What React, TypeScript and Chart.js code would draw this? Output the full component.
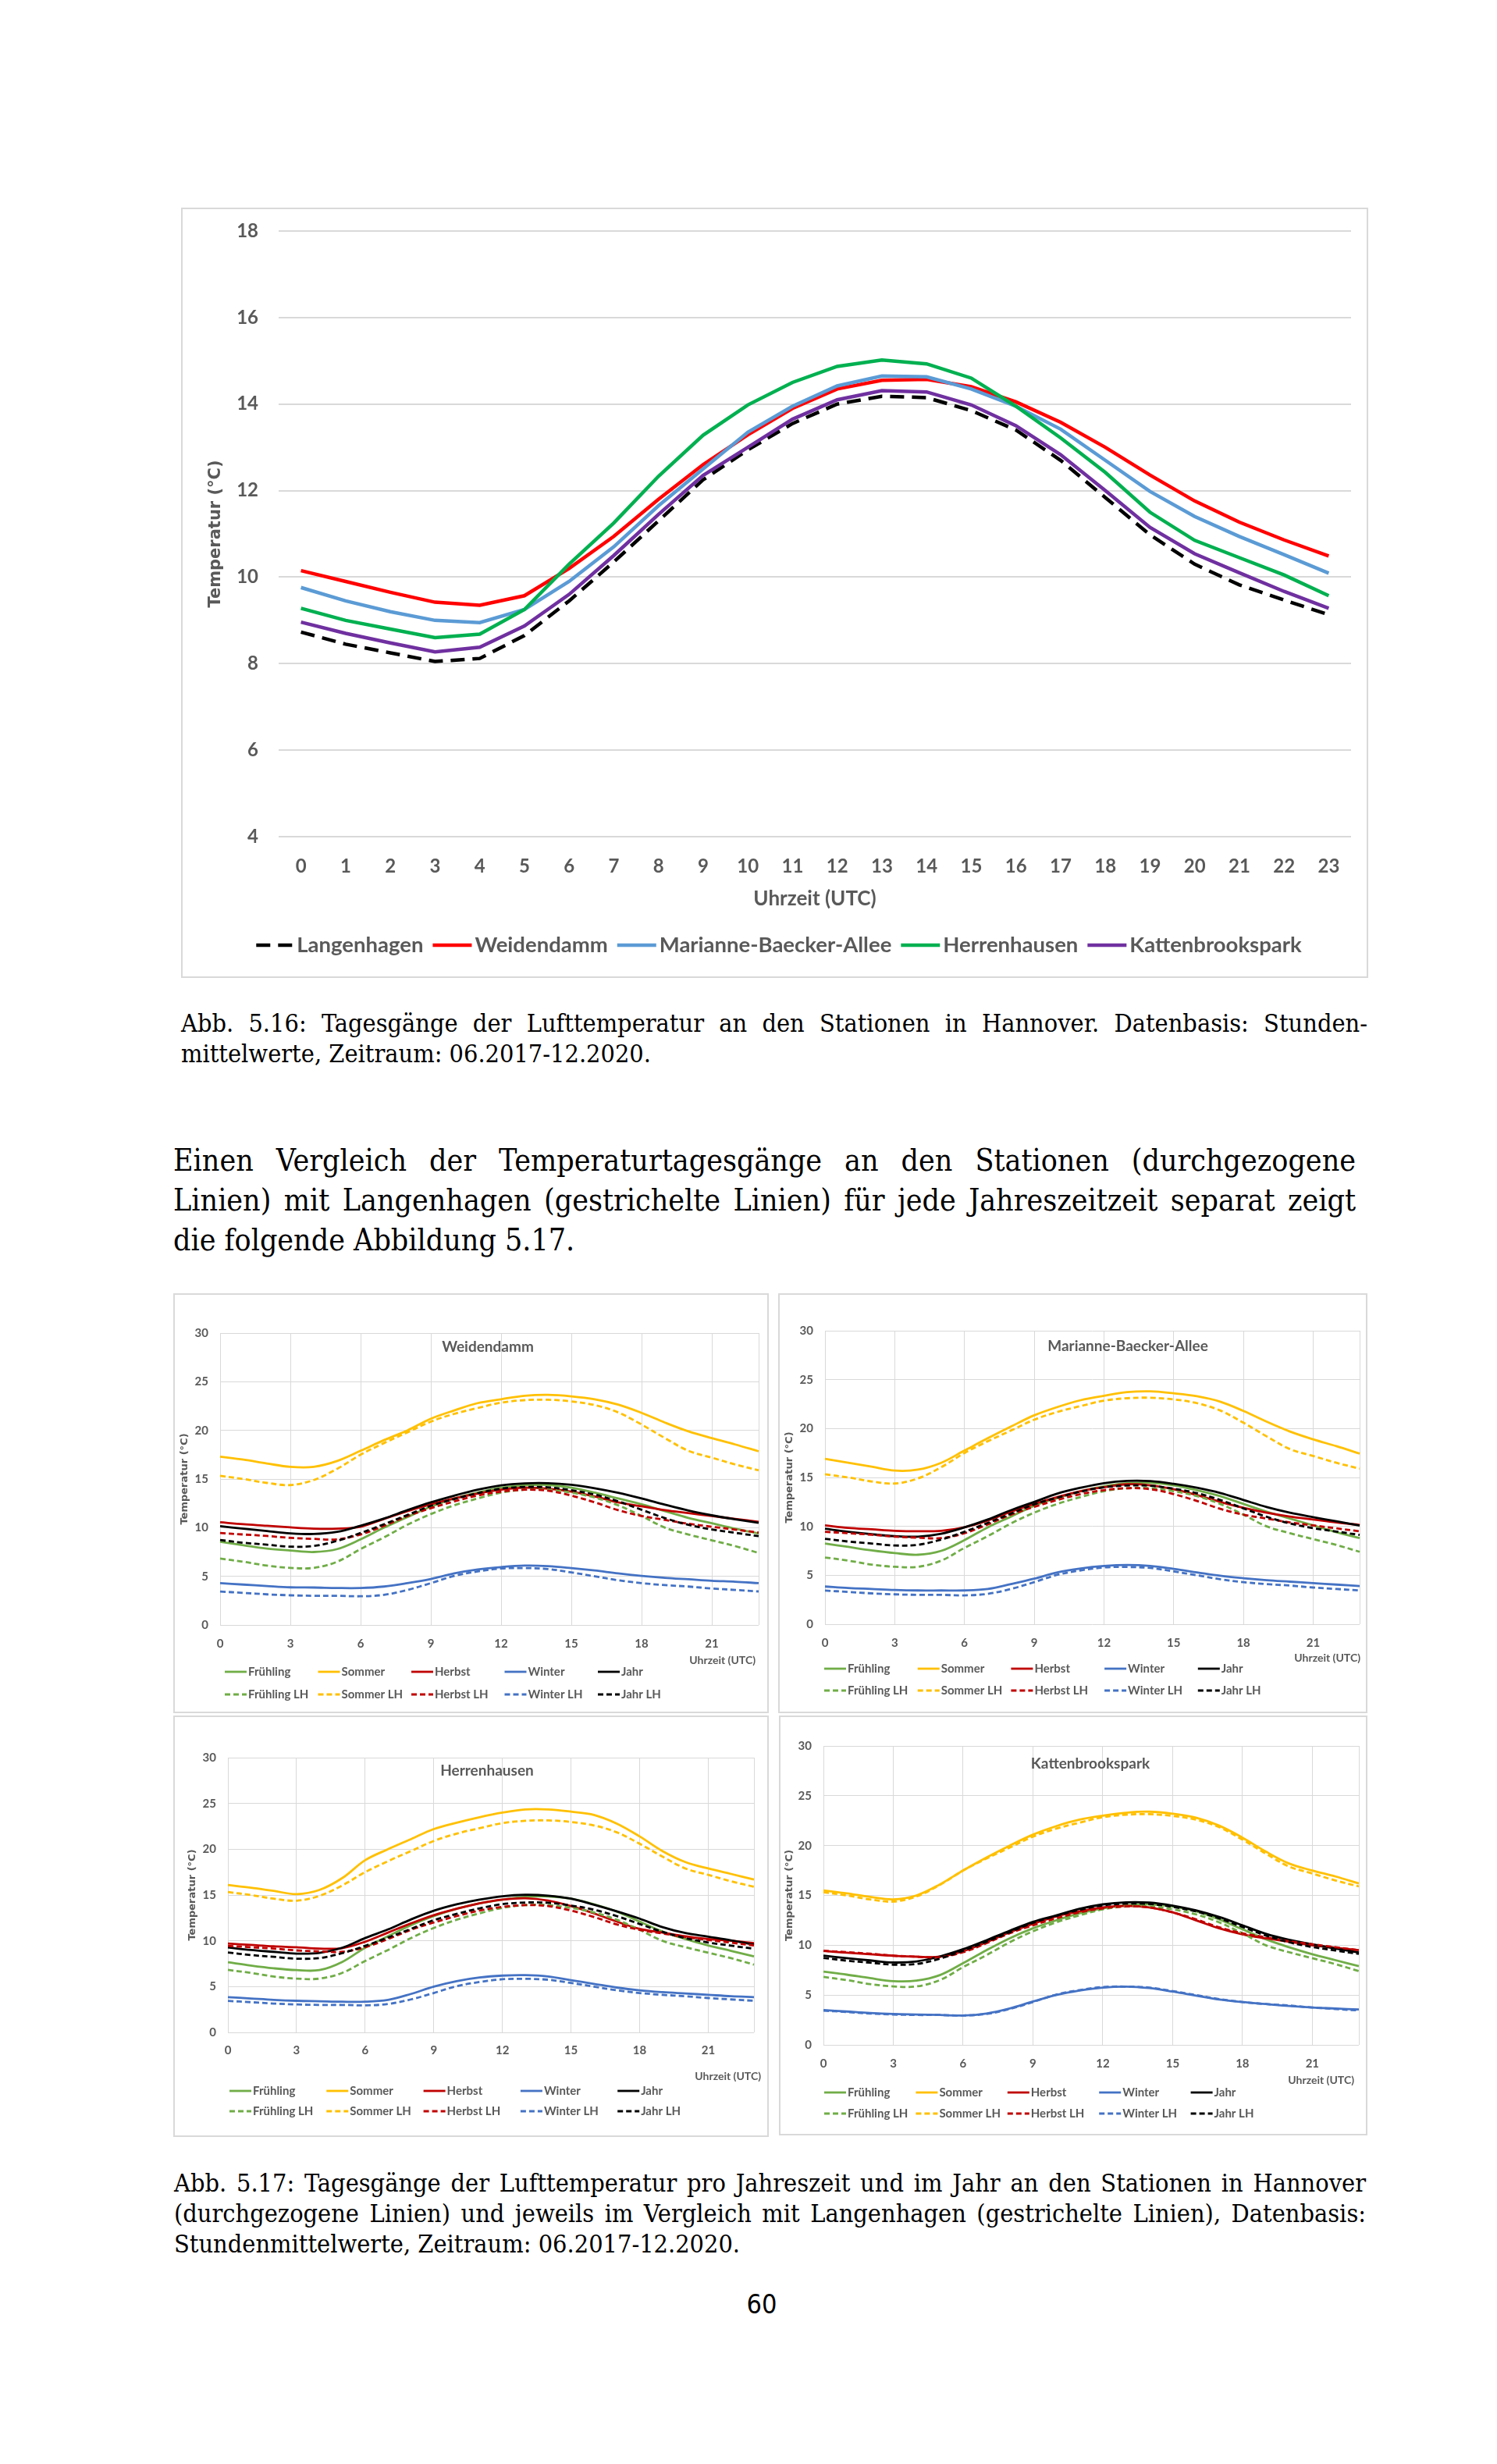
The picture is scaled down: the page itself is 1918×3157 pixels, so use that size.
import React, { useEffect, useLayoutEffect, useRef } from 'react';
import { Chart, registerables } from 'chart.js';

Chart.register(...registerables);

// ---------------- DATA ----------------
const HOURS = ['0', '1', '2', '3', '4', '5', '6', '7', '8', '9', '10', '11', '12', '13', '14', '15', '16', '17', '18', '19', '20', '21', '22', '23'];

const MAIN_STATIONS = ['Langenhagen', 'Weidendamm', 'Marianne-Baecker-Allee', 'Herrenhausen', 'Kattenbrookspark'];
const LANGENHAGEN = [8.73, 8.45, 8.25, 8.05, 8.12, 8.65, 9.45, 10.35, 11.3, 12.25, 12.94, 13.55, 14.0, 14.18, 14.15, 13.85, 13.4, 12.7, 11.84, 10.98, 10.3, 9.82, 9.47, 9.13];
const WEIDENDAMM = [10.15, 9.9, 9.65, 9.42, 9.35, 9.57, 10.2, 10.94, 11.8, 12.6, 13.29, 13.9, 14.35, 14.55, 14.57, 14.4, 14.05, 13.58, 13.0, 12.36, 11.76, 11.27, 10.86, 10.49];
const MARIANNE = [9.76, 9.45, 9.2, 9.0, 8.95, 9.25, 9.9, 10.7, 11.65, 12.5, 13.35, 13.95, 14.42, 14.65, 14.63, 14.35, 13.95, 13.42, 12.7, 11.98, 11.4, 10.94, 10.52, 10.09];
const HERRENHAUSEN = [9.28, 9.0, 8.8, 8.6, 8.68, 9.25, 10.3, 11.25, 12.33, 13.28, 13.98, 14.5, 14.87, 15.02, 14.93, 14.6, 13.95, 13.22, 12.42, 11.5, 10.85, 10.45, 10.05, 9.57];
const KATTENBROOKSPARK = [8.96, 8.7, 8.48, 8.27, 8.38, 8.87, 9.6, 10.5, 11.45, 12.35, 13.0, 13.65, 14.1, 14.31, 14.28, 13.98, 13.5, 12.83, 12.0, 11.15, 10.54, 10.1, 9.67, 9.28];
const MAIN_COLORS = ['#000000', '#FF0000', '#5B9BD5', '#00B050', '#7030A0'];

const SEASON_LABELS = ['Frühling', 'Sommer', 'Herbst', 'Winter', 'Jahr', 'Frühling LH', 'Sommer LH', 'Herbst LH', 'Winter LH', 'Jahr LH'];
const SEASON_COLORS = ['#70AD47', '#FFC000', '#C00000', '#4472C4', '#000000'];

// Langenhagen seasons (reference, dashed in every panel)
const LH_FRUEHLING = [6.82, 6.5, 6.1, 5.87, 5.87, 6.5, 7.8, 9.0, 10.3, 11.4, 12.3, 13.0, 13.6, 13.9, 13.9, 13.6, 13.1, 12.3, 11.2, 10.0, 9.3, 8.7, 8.1, 7.4];
const LH_SOMMER = [15.33, 15.0, 14.6, 14.38, 14.9, 16.05, 17.5, 18.7, 19.8, 20.9, 21.7, 22.3, 22.85, 23.1, 23.15, 22.98, 22.6, 21.85, 20.6, 19.2, 17.9, 17.2, 16.5, 15.9];
const LH_HERBST = [9.45, 9.3, 9.15, 8.95, 8.85, 8.8, 9.3, 10.2, 11.2, 12.0, 12.7, 13.3, 13.7, 13.9, 13.8, 13.3, 12.6, 11.8, 11.2, 10.8, 10.4, 10.1, 9.8, 9.5];
const LH_WINTER = [3.44, 3.3, 3.15, 3.05, 3.0, 3.0, 2.95, 3.1, 3.6, 4.3, 5.05, 5.5, 5.8, 5.85, 5.75, 5.4, 5.0, 4.6, 4.3, 4.1, 3.95, 3.75, 3.6, 3.45];

// Weidendamm
const WD_FRUEHLING = [8.55, 8.2, 7.85, 7.65, 7.5, 7.8, 8.8, 10.0, 11.1, 12.15, 13.0, 13.6, 14.1, 14.35, 14.4, 14.1, 13.6, 13.0, 12.4, 11.7, 11.0, 10.45, 9.9, 9.4];
const WD_SOMMER = [17.3, 17.0, 16.6, 16.25, 16.25, 16.85, 17.9, 19.0, 20.0, 21.2, 22.05, 22.8, 23.2, 23.55, 23.65, 23.5, 23.2, 22.65, 21.8, 20.8, 19.9, 19.2, 18.55, 17.85];
const WD_HERBST = [10.55, 10.35, 10.2, 10.03, 9.9, 9.9, 10.1, 10.9, 11.7, 12.4, 13.0, 13.5, 13.9, 14.1, 14.0, 13.7, 13.2, 12.6, 12.2, 11.8, 11.5, 11.2, 10.9, 10.6];
const WD_WINTER = [4.3, 4.15, 4.0, 3.87, 3.85, 3.8, 3.8, 3.95, 4.3, 4.73, 5.3, 5.7, 5.95, 6.1, 6.05, 5.85, 5.6, 5.3, 5.05, 4.85, 4.7, 4.55, 4.45, 4.3];

// Marianne-Baecker-Allee
const MB_FRUEHLING = [8.25, 7.9, 7.55, 7.27, 7.1, 7.5, 8.6, 9.9, 11.0, 12.1, 12.9, 13.6, 14.1, 14.4, 14.45, 14.2, 13.7, 13.1, 12.3, 11.5, 10.8, 10.1, 9.4, 8.8];
const MB_SOMMER = [16.9, 16.5, 16.1, 15.7, 15.8, 16.5, 17.75, 19.0, 20.2, 21.35, 22.2, 22.9, 23.35, 23.72, 23.8, 23.6, 23.3, 22.75, 21.8, 20.7, 19.7, 18.9, 18.2, 17.45];
const MB_HERBST = [10.1, 9.85, 9.7, 9.55, 9.5, 9.55, 9.9, 10.6, 11.5, 12.3, 13.0, 13.6, 14.0, 14.3, 14.2, 13.8, 13.2, 12.5, 11.9, 11.4, 11.0, 10.7, 10.4, 10.15];
const MB_WINTER = [3.85, 3.7, 3.6, 3.5, 3.45, 3.45, 3.45, 3.6, 4.1, 4.65, 5.3, 5.7, 5.95, 6.05, 5.95, 5.65, 5.3, 4.95, 4.7, 4.5, 4.35, 4.2, 4.05, 3.9];

// Herrenhausen
const HH_FRUEHLING = [7.66, 7.3, 7.0, 6.8, 6.8, 7.7, 9.25, 10.5, 11.7, 12.7, 13.5, 14.1, 14.5, 14.8, 14.85, 14.6, 14.0, 13.2, 12.1, 11.0, 10.2, 9.5, 8.9, 8.3];
const HH_SOMMER = [16.1, 15.8, 15.45, 15.1, 15.55, 16.85, 18.8, 20.0, 21.1, 22.2, 22.9, 23.5, 24.0, 24.35, 24.35, 24.1, 23.75, 22.8, 21.4, 19.8, 18.6, 17.9, 17.3, 16.7];
const HH_HERBST = [9.7, 9.55, 9.4, 9.3, 9.15, 9.2, 9.9, 10.9, 11.9, 12.8, 13.5, 14.1, 14.5, 14.65, 14.4, 13.8, 13.0, 12.1, 11.3, 10.9, 10.5, 10.2, 10.0, 9.75];
const HH_WINTER = [3.85, 3.7, 3.55, 3.45, 3.4, 3.35, 3.35, 3.55, 4.2, 5.0, 5.6, 6.0, 6.2, 6.25, 6.1, 5.7, 5.3, 4.9, 4.6, 4.4, 4.25, 4.1, 3.95, 3.85];

// Kattenbrookspark
const KP_FRUEHLING = [7.35, 7.05, 6.7, 6.4, 6.45, 7.0, 8.2, 9.5, 10.7, 11.7, 12.5, 13.2, 13.7, 14.0, 14.1, 13.9, 13.4, 12.6, 11.6, 10.6, 9.8, 9.1, 8.5, 7.9];
const KP_SOMMER = [15.5, 15.2, 14.85, 14.6, 15.0, 16.1, 17.5, 18.8, 20.0, 21.1, 21.95, 22.6, 23.0, 23.3, 23.4, 23.2, 22.8, 22.0, 20.8, 19.4, 18.2, 17.5, 16.9, 16.2];
const KP_HERBST = [9.43, 9.25, 9.1, 8.95, 8.85, 8.85, 9.4, 10.3, 11.3, 12.15, 12.9, 13.4, 13.8, 13.95, 13.8, 13.3, 12.5, 11.7, 11.1, 10.7, 10.35, 10.0, 9.75, 9.5];
const KP_WINTER = [3.5, 3.35, 3.2, 3.1, 3.05, 3.0, 2.95, 3.15, 3.65, 4.35, 5.0, 5.45, 5.75, 5.85, 5.7, 5.35, 4.95, 4.55, 4.3, 4.1, 3.9, 3.75, 3.65, 3.55];

// ---------------- STYLE / LAYOUT ----------------
const TXT = '#595959';
const SANS = 'Lato, "Open Sans", sans-serif';
const VERD = '"DejaVu Sans", sans-serif';
const SERIF = '"DejaVu Serif", serif';

const MAIN_BOX = [232, 266, 1521, 987];
const MAIN_PLOT = [357, 296, 1731, 1072];

const SMALL = [
  { title: 'Weidendamm', s: [WD_FRUEHLING, WD_SOMMER, WD_HERBST, WD_WINTER, WEIDENDAMM], box: [222, 1657, 763, 538], plot: [282, 1708, 972, 2082], titleX: 625, titleY: 1726, yTitleX: 237, xTitle: [968, 2127], legX: 288, colW: 119.5, rows: [2142, 2171], tickPad: 15 },
  { title: 'Marianne-Baecker-Allee', s: [MB_FRUEHLING, MB_SOMMER, MB_HERBST, MB_WINTER, MARIANNE], box: [997, 1657, 755, 538], plot: [1057, 1705, 1742, 2081], titleX: 1445, titleY: 1725, yTitleX: 1012, xTitle: [1743, 2124], legX: 1056, colW: 119.7, rows: [2138, 2166], tickPad: 15 },
  { title: 'Herrenhausen', s: [HH_FRUEHLING, HH_SOMMER, HH_HERBST, HH_WINTER, HERRENHAUSEN], box: [222, 2198, 763, 540], plot: [292, 2252, 966, 2604], titleX: 624, titleY: 2269, yTitleX: 247, xTitle: [975, 2660], legX: 294, colW: 124.3, rows: [2679, 2705], tickPad: 14 },
  { title: 'Kattenbrookspark', s: [KP_FRUEHLING, KP_SOMMER, KP_HERBST, KP_WINTER, KATTENBROOKSPARK], box: [998, 2198, 754, 538], plot: [1055, 2237, 1741, 2620], titleX: 1397, titleY: 2260, yTitleX: 1012, xTitle: [1735, 2665], legX: 1056, colW: 117.4, rows: [2681, 2708], tickPad: 15 },
];

function drawLegendLine(ctx: CanvasRenderingContext2D, ds: any, x: number, y: number, len: number) {
  ctx.save();
  ctx.strokeStyle = ds.borderColor;
  ctx.lineWidth = ds.borderWidth;
  ctx.setLineDash(ds.borderDash || []);
  ctx.lineCap = 'butt';
  ctx.beginPath();
  ctx.moveTo(x, y);
  ctx.lineTo(x + len, y);
  ctx.stroke();
  ctx.restore();
}

// fixed-size axes so that the plot area lands exactly where the reference has it
function fixY(width: number) {
  return (s: any) => {
    s.width = width;
    s.paddingTop = 0;
    s.paddingBottom = 0;
  };
}
function fixX(height: number) {
  return (s: any) => {
    s.height = height;
    s.paddingLeft = 0;
    s.paddingRight = 0;
  };
}

// ---------------- MAIN CHART ----------------
function MainChart() {
  const ref = useRef<HTMLCanvasElement>(null);
  useEffect(() => {
    const canvas = ref.current;
    if (!canvas) return;
    const [ox, oy, bw, bh] = MAIN_BOX;
    const series = [LANGENHAGEN, WEIDENDAMM, MARIANNE, HERRENHAUSEN, KATTENBROOKSPARK];
    const overlay = {
      id: 'mainOverlay',
      afterDraw(chart: any) {
        const ctx: CanvasRenderingContext2D = chart.ctx;
        const a = chart.chartArea;
        ctx.save();
        ctx.fillStyle = TXT;
        ctx.textBaseline = 'middle';
        // y title
        ctx.save();
        ctx.font = `bold 21px ${VERD}`;
        ctx.textAlign = 'center';
        ctx.translate(277 - ox, (a.top + a.bottom) / 2);
        ctx.rotate(-Math.PI / 2);
        ctx.fillText('Temperatur (°C)', 0, 0);
        ctx.restore();
        // x title
        ctx.font = `bold 26px ${SANS}`;
        ctx.textAlign = 'center';
        ctx.fillText('Uhrzeit (UTC)', (a.left + a.right) / 2, 1152 - oy);
        // legend
        ctx.font = `bold 27.5px ${SANS}`;
        ctx.textAlign = 'left';
        const lineLen = 50, gap = 4, itemGap = 12;
        const ds = chart.data.datasets;
        const widths = ds.map((d: any) => ctx.measureText(d.label).width);
        const total = widths.reduce((s: number, w: number) => s + lineLen + gap + w, 0) + itemGap * (ds.length - 1);
        let x = 997 - ox - total / 2;
        const y = 1211 - oy;
        ds.forEach((d: any, i: number) => {
          const dashed = (d.borderDash || []).length > 0;
          drawLegendLine(ctx, d, x + (dashed ? 2 : 0), y, dashed ? 46 : lineLen);
          ctx.fillStyle = TXT;
          ctx.fillText(d.label, x + lineLen + gap, y);
          x += lineLen + gap + widths[i] + itemGap;
        });
        ctx.restore();
      },
    };
    const chart = new Chart(canvas, {
      type: 'line',
      data: {
        labels: HOURS,
        datasets: series.map((d, i) => ({
          label: MAIN_STATIONS[i],
          data: d,
          borderColor: MAIN_COLORS[i],
          backgroundColor: MAIN_COLORS[i],
          borderWidth: 4.5,
          borderDash: i === 0 ? [18, 10] : [],
          pointRadius: 0,
          tension: 0,
          order: -i,
        })),
      },
      options: {
        responsive: false,
        animation: false,
        devicePixelRatio: 1,
        layout: {
          padding: { left: 0, top: MAIN_PLOT[1] - oy, right: ox + bw - MAIN_PLOT[2], bottom: 0 },
        },
        plugins: { legend: { display: false }, tooltip: { enabled: false } },
        scales: {
          x: {
            offset: true,
            grid: { display: false, drawTicks: false },
            border: { display: false },
            ticks: { autoSkip: false, maxRotation: 0, padding: 24, color: TXT, font: { family: SANS, size: 24, weight: 'bold' } },
            afterFit: fixX(oy + bh - MAIN_PLOT[3]),
          },
          y: {
            min: 4,
            max: 18,
            ticks: { stepSize: 2, padding: 26, color: TXT, font: { family: SANS, size: 24, weight: 'bold' } },
            grid: { color: '#d9d9d9', lineWidth: 2, drawTicks: false },
            border: { display: false },
            afterFit: fixY(MAIN_PLOT[0] - ox),
          },
        },
      } as any,
      plugins: [overlay],
    });
    return () => chart.destroy();
  }, []);
  const [l, t, w, h] = MAIN_BOX;
  return (
    <>
      <div style={{ position: 'absolute', left: l, top: t, width: w, height: h, boxSizing: 'border-box', border: '2px solid #d9d9d9' }} />
      <canvas ref={ref} width={w} height={h} style={{ position: 'absolute', left: l, top: t, width: w, height: h }} />
    </>
  );
}

// ---------------- SMALL CHARTS ----------------
function SmallChart({ cfg }: { cfg: any }) {
  const ref = useRef<HTMLCanvasElement>(null);
  useEffect(() => {
    const canvas = ref.current;
    if (!canvas) return;
    const [ox, oy, bw, bh] = cfg.box;
    const [pl, pt, pr, pb] = cfg.plot;
    const series = [...cfg.s, LH_FRUEHLING, LH_SOMMER, LH_HERBST, LH_WINTER, LANGENHAGEN];
    const overlay = {
      id: 'smallOverlay',
      afterDraw(chart: any) {
        const ctx: CanvasRenderingContext2D = chart.ctx;
        const a = chart.chartArea;
        ctx.save();
        ctx.fillStyle = TXT;
        ctx.textBaseline = 'middle';
        // station title
        ctx.font = `bold 19px ${SANS}`;
        ctx.textAlign = 'center';
        ctx.fillText(cfg.title, cfg.titleX - ox, cfg.titleY - oy);
        // y title
        ctx.save();
        ctx.font = `bold 13px ${VERD}`;
        ctx.translate(cfg.yTitleX - ox, (a.top + a.bottom) / 2);
        ctx.rotate(-Math.PI / 2);
        ctx.fillText('Temperatur (°C)', 0, 0);
        ctx.restore();
        // x title
        ctx.font = `bold 14px ${SANS}`;
        ctx.textAlign = 'right';
        ctx.fillText('Uhrzeit (UTC)', cfg.xTitle[0] - ox, cfg.xTitle[1] - oy);
        // legend grid 5 x 2
        ctx.font = `bold 15px ${SANS}`;
        ctx.textAlign = 'left';
        chart.data.datasets.forEach((d: any, i: number) => {
          const col = i % 5;
          const row = Math.floor(i / 5);
          const x = cfg.legX - ox + col * cfg.colW;
          const y = cfg.rows[row] - oy;
          drawLegendLine(ctx, d, x, y, 28);
          ctx.fillStyle = TXT;
          ctx.fillText(d.label, x + 30, y);
        });
        ctx.restore();
      },
    };
    const chart = new Chart(canvas, {
      type: 'line',
      data: {
        labels: HOURS,
        datasets: series.map((d: number[], i: number) => ({
          label: SEASON_LABELS[i],
          data: d,
          borderColor: SEASON_COLORS[i % 5],
          backgroundColor: SEASON_COLORS[i % 5],
          borderWidth: 2.8,
          borderDash: i >= 5 ? [7, 4] : [],
          pointRadius: 0,
          tension: 0.35,
          order: -i,
        })),
      },
      options: {
        responsive: false,
        animation: false,
        devicePixelRatio: 1,
        layout: { padding: { left: 0, top: pt - oy, right: ox + bw - pr, bottom: 0 } },
        plugins: { legend: { display: false }, tooltip: { enabled: false } },
        scales: {
          x: {
            offset: false,
            grid: {
              color: (c: any) => (c.index % 3 === 0 || c.index === 23 ? '#d9d9d9' : 'rgba(0,0,0,0)'),
              lineWidth: 1,
              drawTicks: false,
            },
            border: { display: false },
            ticks: {
              autoSkip: false,
              maxRotation: 0,
              padding: cfg.tickPad,
              color: TXT,
              font: { family: SANS, size: 15, weight: 'bold' },
              callback: (_v: any, i: number) => (i % 3 === 0 ? HOURS[i] : ''),
            },
            afterFit: fixX(oy + bh - pb),
          },
          y: {
            min: 0,
            max: 30,
            ticks: { stepSize: 5, padding: 15, color: TXT, font: { family: SANS, size: 15, weight: 'bold' } },
            grid: { color: '#d9d9d9', lineWidth: 1, drawTicks: false },
            border: { display: false },
            afterFit: fixY(pl - ox),
          },
        },
      } as any,
      plugins: [overlay],
    });
    return () => chart.destroy();
  }, [cfg]);
  const [l, t, w, h] = cfg.box;
  return (
    <>
      <div style={{ position: 'absolute', left: l, top: t, width: w, height: h, boxSizing: 'border-box', border: '2px solid #d9d9d9' }} />
      <canvas ref={ref} width={w} height={h} style={{ position: 'absolute', left: l, top: t, width: w, height: h }} />
    </>
  );
}

// ---------------- TEXT ----------------
function TextLine({ text, x, baseline, width, size, justify, family = SERIF, stretch = 'condensed' }: any) {
  const ref = useRef<HTMLDivElement>(null);
  const lh = Math.round(size * 1.3);
  const top = baseline - ((lh - 1.164 * size) / 2 + 0.928 * size);
  useLayoutEffect(() => {
    const el = ref.current;
    if (!el) return;
    const fit = () => {
      el.style.wordSpacing = '0px';
      el.style.transform = 'none';
      const w = el.getBoundingClientRect().width;
      if (width && w > width) el.style.transform = `scaleX(${width / w})`;
      else if (justify) {
        const n = text.split(' ').length - 1;
        if (n > 0) el.style.wordSpacing = `${(width - w) / n}px`;
      }
    };
    fit();
    if ((document as any).fonts) (document as any).fonts.ready.then(fit);
  }, [text, width, justify]);
  return (
    <div
      ref={ref}
      style={{
        position: 'absolute', left: x, top, whiteSpace: 'pre', fontFamily: family, fontStretch: stretch,
        fontSize: size, lineHeight: `${lh}px`, color: '#000', transformOrigin: '0 0',
      }}
    >
      {text}
    </div>
  );
}

const CAPTION1 = ['Abb. 5.16: Tagesgänge der Lufttemperatur an den Stationen in Hannover. Datenbasis: Stunden-', 'mittelwerte, Zeitraum: 06.2017-12.2020.'];
const PARAGRAPH = ['Einen Vergleich der Temperaturtagesgänge an den Stationen (durchgezogene', 'Linien) mit Langenhagen (gestrichelte Linien) für jede Jahreszeitzeit separat zeigt', 'die folgende Abbildung 5.17.'];
const CAPTION2 = ['Abb. 5.17: Tagesgänge der Lufttemperatur pro Jahreszeit und im Jahr an den Stationen in Hannover', '(durchgezogene Linien) und jeweils im Vergleich mit Langenhagen (gestrichelte Linien), Datenbasis:', 'Stundenmittelwerte, Zeitraum: 06.2017-12.2020.'];

export default function App() {
  return (
    <div style={{ position: 'absolute', left: 0, top: 0, width: 1918, height: 3157, background: '#fff', overflow: 'hidden' }}>
      <MainChart />
      {CAPTION1.map((t, i) => (
        <TextLine key={'c1' + i} text={t} x={232} baseline={1322 + i * 39} width={1520} size={32.2} justify={i < CAPTION1.length - 1} />
      ))}
      {PARAGRAPH.map((t, i) => (
        <TextLine key={'p' + i} text={t} x={222} baseline={1500 + i * 51} width={1515} size={39} justify={i < PARAGRAPH.length - 1} />
      ))}
      {SMALL.map((c) => (
        <SmallChart key={c.title} cfg={c} />
      ))}
      {CAPTION2.map((t, i) => (
        <TextLine key={'c2' + i} text={t} x={223} baseline={2808 + i * 39} width={1527} size={32.2} justify={i < CAPTION2.length - 1} />
      ))}
      <div style={{ position: 'absolute', left: 876, top: 2930, width: 200, textAlign: 'center', fontFamily: VERD, fontStretch: 'condensed', fontSize: 34, lineHeight: '44px', color: '#000' }}>60</div>
    </div>
  );
}
